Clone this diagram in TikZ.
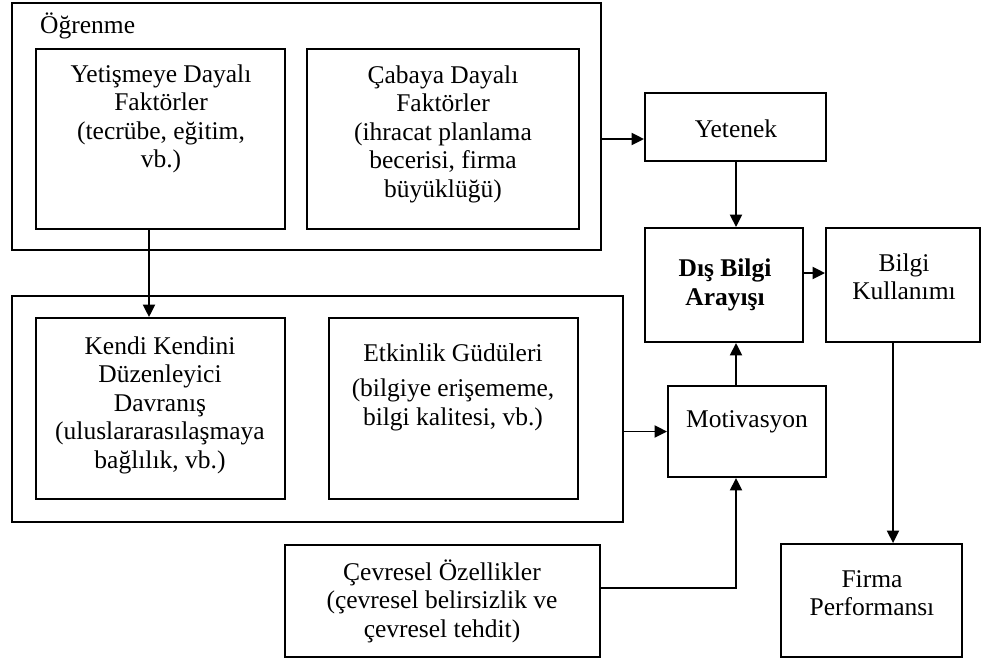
\documentclass[tikz,border=0pt]{standalone}
\usepackage{fontspec}
\setmainfont{Liberation Serif}
\usetikzlibrary{arrows.meta}
\begin{document}
\begin{tikzpicture}[x=1pt,y=-1pt,
  box/.style={draw, line width=1.9pt, inner sep=0pt},
  txt/.style={align=center, inner sep=0pt, font=\fontsize{25.5}{28.5}\selectfont},
  arr/.style={line width=1.9pt, -{Triangle[length=12.5pt,width=12pt]}}]
\useasboundingbox (0,0) rectangle (982,659);

% frames
\node[box, minimum width=589pt, minimum height=247pt] (ogr) at (306.5,126.5) {};
\node[box, minimum width=249pt, minimum height=180pt] (yetis) at (160.5,139) {};
\node[box, minimum width=272pt, minimum height=180pt] (cabaya) at (443,139) {};
\node[box, minimum width=181pt, minimum height=68pt] (yet) at (735.5,127) {};
\node[box, minimum width=158pt, minimum height=114pt] (dis) at (724,285) {};
\node[box, minimum width=154pt, minimum height=114pt] (bilgi) at (903,285) {};
\node[box, minimum width=611pt, minimum height=226pt] (alt) at (317.5,409) {};
\node[box, minimum width=249pt, minimum height=181pt] (kendi) at (160.5,408.5) {};
\node[box, minimum width=249pt, minimum height=181pt] (etk) at (453.5,408.5) {};
\node[box, minimum width=158pt, minimum height=91pt] (mot) at (747,431.5) {};
\node[box, minimum width=315pt, minimum height=112pt] (cev) at (442.5,601) {};
\node[box, minimum width=181pt, minimum height=113pt] (firma) at (871.5,600.5) {};

% texts
\node[txt, anchor=west] (ogr-t) at (40,26) {Öğrenme};
\node[txt] (yetis-t) at (161,119) {Yetişmeye Dayalı\\Faktörler\\(tecrübe, eğitim,\\vb.)};
\node[txt] (cabaya-t) at (443,134) {Çabaya Dayalı\\Faktörler\\(ihracat planlama\\becerisi, firma\\büyüklüğü)};
\node[txt] (yet-t) at (736,129) {Yetenek};
\node[txt, font=\fontsize{25.5}{28.5}\selectfont\bfseries] (dis-t) at (725,285) {Dış Bilgi\\Arayışı};
\node[txt] (bilgi-t) at (904,277) {Bilgi\\Kullanımı};
\node[txt] (kendi-t) at (160,405) {Kendi Kendini\\Düzenleyici\\Davranış\\(uluslararasılaşmaya\\bağlılık, vb.)};
\node[txt] (etk-t) at (453,387) {Etkinlik Güdüleri\\[7pt](bilgiye erişememe,\\bilgi kalitesi, vb.)};
\node[txt] (mot-t) at (747,422) {Motivasyon};
\node[txt] (cev-t) at (442,601) {Çevresel Özellikler\\(çevresel belirsizlik ve\\çevresel tehdit)};
\node[txt] (firma-t) at (872,593) {Firma\\Performansı};

% guide positions for the connectors
\coordinate (xa) at (149,0);
\coordinate (ya) at (0,139);
\coordinate (yb) at (0,273);
\coordinate (xc) at (736,0);
\coordinate (yc) at (0,588);
\coordinate (xd) at (893,0);

% connectors
\draw[arr] (yetis.south -| xa) -- (kendi.north -| xa);
\draw[arr] (ogr.east |- ya) -- (yet.west |- ya);
\draw[arr] (yet.south -| xc) -- (dis.north -| xc);
\draw[arr] (dis.east |- yb) -- (bilgi.west |- yb);
\draw[arr] (bilgi.south -| xd) -- (firma.north -| xd);
\draw[arr] (alt.east |- mot.west) -- (mot.west);
\draw[arr] (mot.north -| xc) -- (dis.south -| xc);
\draw[arr] (cev.east |- yc) -| (mot.south -| xc);
\end{tikzpicture}
\end{document}
